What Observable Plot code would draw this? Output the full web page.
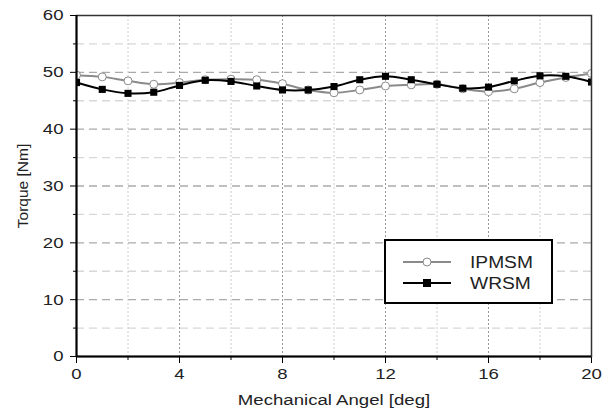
<!DOCTYPE html>
<html>
<head>
<meta charset="utf-8">
<script src="https://cdn.jsdelivr.net/npm/d3@7"></script>
<script src="https://cdn.jsdelivr.net/npm/@observablehq/plot@0.6"></script>
<style>
  body { margin: 0; background: #fff; }
  #wrap { position: relative; width: 612px; height: 408px; font-family: "Liberation Sans", Arial, sans-serif; }
  #legend { position: absolute; left: 384px; top: 239px; width: 165px; height: 61px; border: 2px solid #000; background: #fff; }
  #legend svg { position: absolute; left: 0; top: 0; }
</style>
</head>
<body>
<div id="wrap"></div>
<script>
// ---- data ----
const angles = [0,1,2,3,4,5,6,7,8,9,10,11,12,13,14,15,16,17,18,19,20];
const ipmsm  = [49.5,49.2,48.5,47.9,48.2,48.7,48.8,48.7,48.0,46.9,46.4,46.9,47.6,47.8,47.9,47.1,46.6,47.1,48.2,49.1,49.8];
const wrsm   = [48.2,47.0,46.3,46.5,47.7,48.6,48.4,47.6,46.9,46.9,47.5,48.7,49.3,48.7,47.9,47.2,47.4,48.5,49.4,49.3,48.3];
const seriesNames = ["IPMSM", "WRSM"];
const xMajorTicks = [0,4,8,12,16,20];
const xMinorTicks = [2,6,10,14,18];
const yMajorTicks = [0,10,20,30,40,50,60];
const yMinorTicks = [5,15,25,35,45,55];
const xLabel = "Mechanical Angel [deg]";
const yLabel = "Torque [Nm]";

const ip = angles.map((a, i) => ({angle: a, torque: ipmsm[i]}));
const wr = angles.map((a, i) => ({angle: a, torque: wrsm[i]}));

const chart = Plot.plot({
  width: 612,
  height: 408,
  marginLeft: 76,
  marginRight: 21,
  marginTop: 15,
  marginBottom: 52,
  style: {fontFamily: "'Liberation Sans', Arial, sans-serif", fontSize: "15px", color: "#222", background: "#fff"},
  x: {domain: [0, 20]},
  y: {domain: [0, 60]},
  marks: [
    // grid
    Plot.gridY(yMinorTicks, {stroke: "#d8d8d8", strokeOpacity: 1, strokeWidth: 1.3, strokeDasharray: "8,5"}),
    Plot.gridY(yMajorTicks.slice(1, -1), {stroke: "#aaa", strokeOpacity: 1, strokeWidth: 1.3, strokeDasharray: "8,5"}),
    Plot.gridX(xMinorTicks, {stroke: "#ccc", strokeOpacity: 1, strokeDasharray: "2,2"}),
    Plot.gridX(xMajorTicks.slice(1, -1), {stroke: "#999", strokeOpacity: 1, strokeDasharray: "2,2"}),
    // axes
    Plot.axisX(xMajorTicks, {tickSize: 7, tickPadding: 4, fontSize: 15.5, label: xLabel, labelAnchor: "center", labelOffset: 48, labelArrow: "none", stroke: "#000"}),
    Plot.axisX(xMinorTicks, {tickSize: 4, text: null, label: null, stroke: "#000"}),
    Plot.axisY(yMajorTicks, {tickSize: 6, tickPadding: 7, fontSize: 15.5, label: yLabel, labelAnchor: "center", labelOffset: 60, labelArrow: "none", stroke: "#000"}),
    Plot.axisY(yMinorTicks, {tickSize: 3, text: null, label: null, stroke: "#000"}),
    // series
    Plot.line(ip, {x: "angle", y: "torque", stroke: "#8a8a8a", strokeWidth: 2, curve: "catmull-rom", clip: true}),
    Plot.dot(ip, {x: "angle", y: "torque", r: 4, fill: "#fff", stroke: "#8a8a8a", strokeWidth: 1, clip: true}),
    Plot.line(wr, {x: "angle", y: "torque", stroke: "#000", strokeWidth: 2, curve: "catmull-rom", clip: true}),
    Plot.dot(wr, {x: "angle", y: "torque", r: 4, symbol: "square", fill: "#000", stroke: "none", clip: true}),
    // frame
    Plot.frame({stroke: "#333", strokeWidth: 1.5}),
    Plot.ruleX([0], {stroke: "#000", strokeWidth: 2}),
    Plot.ruleY([0], {stroke: "#000", strokeWidth: 2})
  ]
});

const wrap = document.getElementById("wrap");
wrap.appendChild(chart);

// legend
const legend = document.createElement("div");
legend.id = "legend";
const ns = "http://www.w3.org/2000/svg";
const lsvg = document.createElementNS(ns, "svg");
lsvg.setAttribute("width", 165);
lsvg.setAttribute("height", 61);
const styles = [
  {stroke: "#8a8a8a", sym: "circle"},
  {stroke: "#000", sym: "square"}
];
seriesNames.forEach((name, i) => {
  const y = 21 + i * 21;
  const st = styles[i];
  const line = document.createElementNS(ns, "line");
  line.setAttribute("x1", 17); line.setAttribute("x2", 65);
  line.setAttribute("y1", y); line.setAttribute("y2", y);
  line.setAttribute("stroke", st.stroke); line.setAttribute("stroke-width", 2);
  lsvg.appendChild(line);
  if (st.sym === "circle") {
    const c = document.createElementNS(ns, "circle");
    c.setAttribute("cx", 41); c.setAttribute("cy", y); c.setAttribute("r", 4);
    c.setAttribute("fill", "#fff"); c.setAttribute("stroke", st.stroke);
    lsvg.appendChild(c);
  } else {
    const r = document.createElementNS(ns, "rect");
    r.setAttribute("x", 37); r.setAttribute("y", y - 4);
    r.setAttribute("width", 8); r.setAttribute("height", 8);
    r.setAttribute("fill", "#000");
    lsvg.appendChild(r);
  }
  const t = document.createElementNS(ns, "text");
  t.setAttribute("x", 84); t.setAttribute("y", y);
  t.setAttribute("dy", "0.36em");
  t.setAttribute("font-size", 16);
  t.setAttribute("fill", "#222");
  t.setAttribute("font-family", "'Liberation Sans', Arial, sans-serif");
  t.textContent = name;
  lsvg.appendChild(t);
});
legend.appendChild(lsvg);
wrap.appendChild(legend);

// the reference's text is horizontally widened; mimic it on horizontal text
const STRETCH = 1.2;
wrap.querySelectorAll("text").forEach(t => {
  const tr = (t.getAttribute("transform") || "") + (t.parentNode.getAttribute && t.parentNode.getAttribute("transform") || "");
  if (/rotate/.test(tr)) return;
  const len = t.getComputedTextLength();
  if (len > 0) {
    t.setAttribute("textLength", (len * STRETCH).toFixed(1));
    t.setAttribute("lengthAdjust", "spacingAndGlyphs");
  }
});
</script>
</body>
</html>
